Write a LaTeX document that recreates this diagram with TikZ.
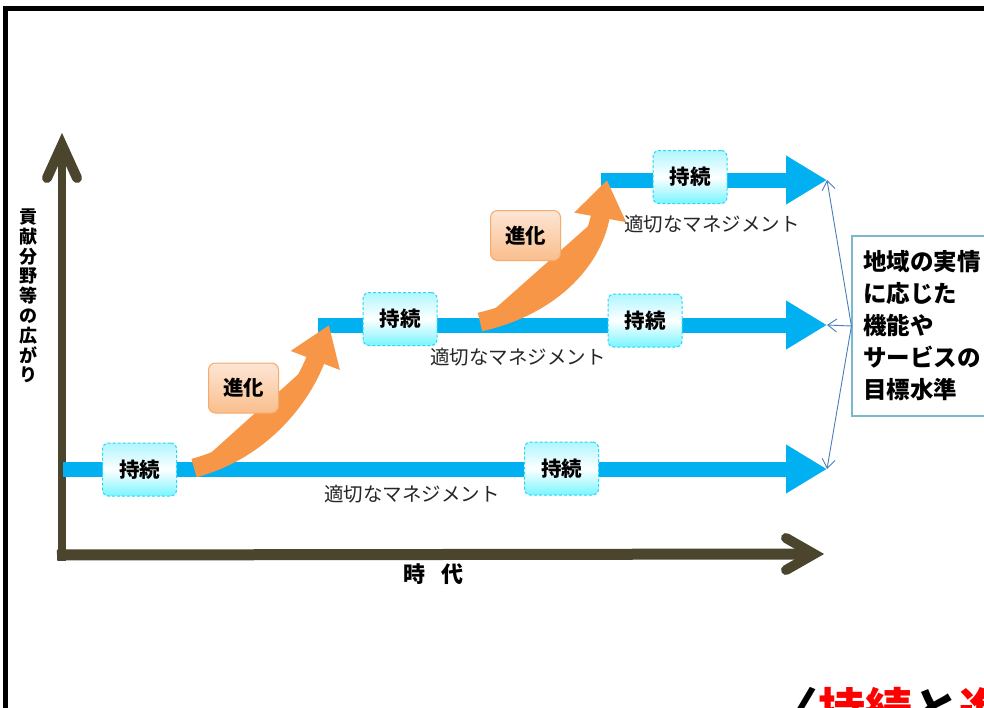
\documentclass[tikz,border=0pt]{standalone}
\usepackage{fontspec}
\setmainfont{Noto Sans CJK JP}
\usetikzlibrary{arrows.meta}
\definecolor{axisc}{RGB}{74,69,44}
\definecolor{bluec}{RGB}{0,176,240}
\definecolor{orangec}{RGB}{247,150,70}
\definecolor{thinc}{RGB}{74,126,187}
\definecolor{tboxc}{RGB}{120,185,205}
\definecolor{keepborder}{RGB}{40,215,245}
\definecolor{keeptop}{RGB}{175,246,255}
\definecolor{keepbot}{RGB}{120,245,255}
\definecolor{evotop}{RGB}{253,230,213}
\definecolor{evobot}{RGB}{250,190,140}
\definecolor{evoborder}{RGB}{245,170,110}
\definecolor{labc}{RGB}{38,38,38}
\begin{document}
\begin{tikzpicture}[x=1pt,y=-1pt,
  axisline/.style={draw=axisc},
  axishead/.style={draw=axisc, line width=10pt, line cap=round, line join=miter},
  blueline/.style={draw=bluec, fill=bluec, line width=15pt, -{Triangle[length=41pt,width=46pt]}},
  evoarrow/.style={draw=orangec, fill=orangec, line width=19pt, -{Triangle[length=38pt,width=50pt]}},
  thinarr/.style={draw=thinc, line width=0.9pt, -{Straight Barb[length=9pt,width=13pt]}},
  keepbox/.style={draw=keepborder, dash pattern=on 3pt off 2pt, line width=1pt, rounded corners=6pt,
    minimum width=74pt, minimum height=53pt, inner sep=0pt,
    top color=keeptop, bottom color=keepbot, middle color=white,
    font=\bfseries\fontsize{20.5}{22}\selectfont},
  evobox/.style={draw=evoborder, line width=1pt, rounded corners=7pt,
    minimum width=70pt, minimum height=50pt, inner sep=0pt,
    top color=evotop, bottom color=evobot,
    font=\bfseries\fontsize{20.5}{22}\selectfont},
  mlabel/.style={text=labc, inner sep=0pt, font=\fontsize{19.5}{21}\selectfont},
  tbox/.style={draw=tboxc, line width=1.2pt, fill=white, align=left, text width=150pt,
    inner xsep=11pt, minimum height=180pt, font=\bfseries\fontsize{23.5}{32}\selectfont}
]
\useasboundingbox (0,0) rectangle (984,707);
\clip (0,0) rectangle (984,707);
\fill[white] (0,0) rectangle (984,707);

% frame
\draw[line width=5.3pt] (5.3,8.7) rectangle (1010,730);

% coordinates
\coordinate (ybot) at (62,560.5);
\coordinate (ytip) at (62,145);
\coordinate (xl) at (57,555);
\coordinate (xtip) at (814,554);
\coordinate (b1s) at (63,469);  \coordinate (b1e) at (827,469);
\coordinate (b2s) at (318,325); \coordinate (b2e) at (827,325);
\coordinate (b3s) at (601,180); \coordinate (b3e) at (827,180);
\coordinate (o1s) at (194,468); \coordinate (o1e) at (329,325);
\coordinate (o2s) at (480,322); \coordinate (o2e) at (607,180);

% axes
\draw[axisline, line width=8pt] (ybot) -- (ytip);
\draw[axisline, line width=11pt] (xl) -- (xtip);
\draw[axishead] (47,178) -- (ytip) -- (77,178);
\draw[axishead] (786,538) -- (xtip) -- (786,570);

% blue lines
\draw[blueline] (b1s) -- (b1e);
\draw[blueline] (b2s) -- (b2e);
\draw[blueline] (b3s) -- (b3e);

% orange arrows
\draw[evoarrow] (o1s) .. controls (255,452) and (298,405) .. (o1e);
\draw[evoarrow] (o2s) .. controls (550,306) and (592,262) .. (o2e);

% boxes
\node[keepbox] (s1) at (139.5,469.5) {持続};
\node[keepbox] (s2) at (561.5,468.5) {持続};
\node[keepbox] (s3) at (400,319) {持続};
\node[keepbox] (s4) at (645,320.5) {持続};
\node[keepbox] (s5) at (690,177) {持続};
\node[evobox] (e1) at (243.5,388) {進化};
\node[evobox] (e2) at (525.5,235.5) {進化};

% labels
\node[mlabel] (m1) at (412,494) {適切なマネジメント};
\node[mlabel] (m2) at (518,357) {適切なマネジメント};
\node[mlabel] (m3) at (712,224) {適切なマネジメント};

% right text box
\node[tbox] (tb) at (938,326) {地域の実情\\に応じた\\機能や\\サービスの\\目標水準};
\draw[thinarr] (tb.west) -- (b3e);
\draw[thinarr] (tb.west) -- (b2e);
\draw[thinarr] (tb.west) -- (b1e);

% axis labels
\node[align=center, inner sep=0pt, font=\bfseries\fontsize{18}{19.8}\selectfont] (ylab) at (28,296)
  {貢\\献\\分\\野\\等\\の\\広\\が\\り};
\node[inner sep=0pt, font=\bfseries\fontsize{22}{24}\selectfont] (xlab) at (433,574) {時\hspace{16pt}代};

% slogan (cut off at bottom)
\node[anchor=base west, inner sep=0pt, font=\bfseries\fontsize{47}{50}\selectfont] (slogan) at (771,727)
  {〈{\color{red}持続}と{\color{red}進化}〉};
\end{tikzpicture}
\end{document}
